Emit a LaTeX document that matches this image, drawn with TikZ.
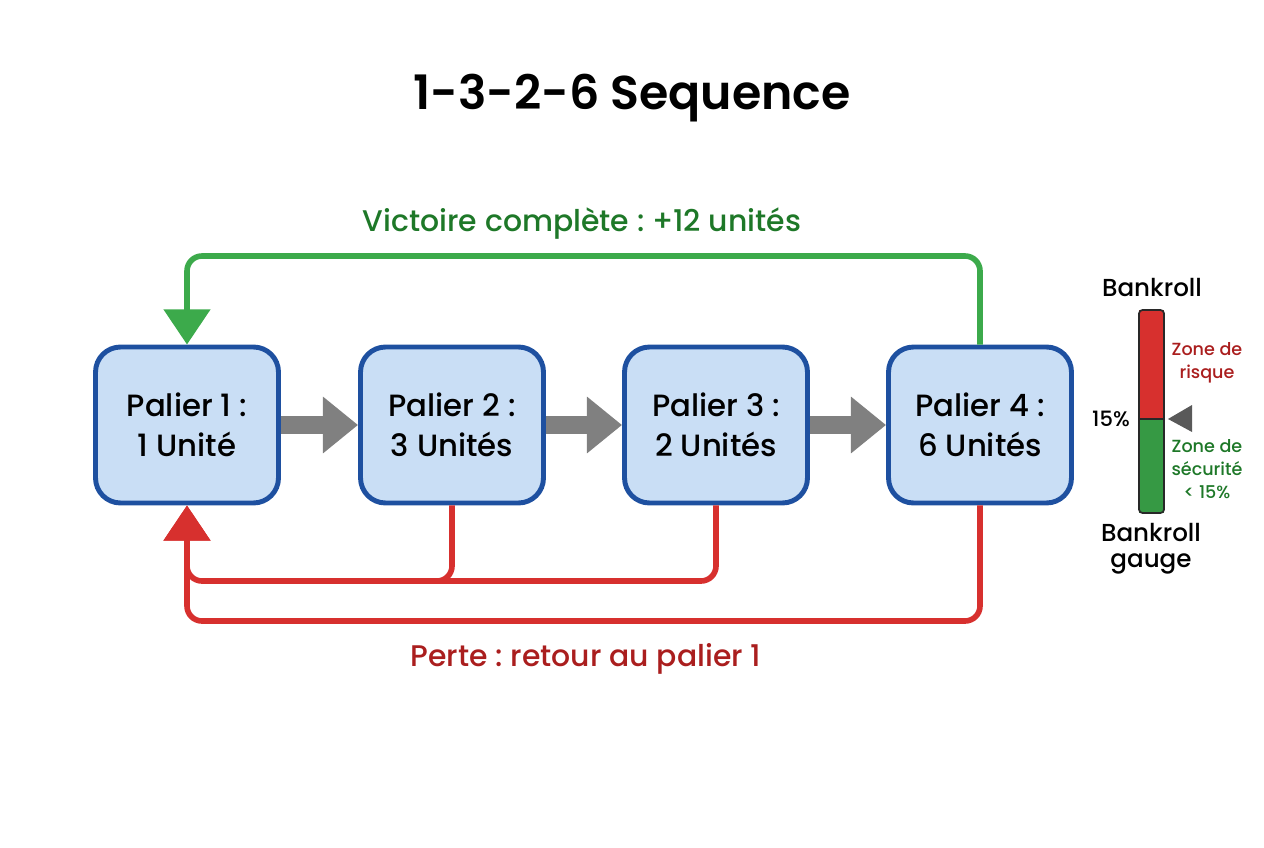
\documentclass[tikz,border=0pt]{standalone}
\usepackage{fontspec}
\setmainfont{Poppins Medium}[BoldFont={Poppins SemiBold}]
\usepackage{tikz}
\usetikzlibrary{arrows.meta, positioning, calc}
\frenchspacing
\definecolor{myblue}{RGB}{30,80,160}
\definecolor{hdrblue}{RGB}{201,222,245}
\definecolor{mygreen}{RGB}{60,170,75}
\definecolor{txtgreen}{RGB}{30,120,40}
\definecolor{myred}{RGB}{215,48,46}
\definecolor{txtred}{RGB}{170,30,30}
\definecolor{mygray}{RGB}{128,128,128}
\definecolor{mydark}{RGB}{40,40,40}
\tikzset{
  stepbox/.style={rectangle, draw=myblue, fill=hdrblue,
    minimum width=3.66cm, minimum height=3.12cm, align=center,
    font=\fontsize{17.5}{23}\selectfont, rounded corners=0.5cm, line width=2.8pt},
  nextarrow/.style={-{Triangle[width=31pt, length=20pt]}, line width=10.5pt, color=mygray},
  winline/.style={-{Triangle[width=26pt, length=20pt]}, line width=3.2pt,
    color=mygreen, rounded corners=0.3cm},
  lossline/.style={line width=3.2pt, color=myred, rounded corners=0.3cm},
  lossarrow/.style={lossline, -{Triangle[width=26pt, length=20pt]}},
  gaugetext/.style={font=\fontsize{14}{15}\selectfont},
  zonetext/.style={font=\fontsize{10}{13}\selectfont, align=center}
}
\begin{document}
\begin{tikzpicture}[x=0.02cm, y=-0.02cm]
  \useasboundingbox (0,0) rectangle (1264,848);

  % Title
  \node[font=\fontsize{27}{32}\selectfont\bfseries] (title) at (632,98) {1-3-2-6 Sequence};

  % Steps
  \node[stepbox] (p1) at (187,425) {Palier 1 :\\1 Unité};
  \node[stepbox] (p2) at (452,425) {Palier 2 :\\3 Unités};
  \node[stepbox] (p3) at (716,425) {Palier 3 :\\2 Unités};
  \node[stepbox] (p4) at (980,425) {Palier 4 :\\6 Unités};

  \draw[nextarrow] (p1) -- (p2);
  \draw[nextarrow] (p2) -- (p3);
  \draw[nextarrow] (p3) -- (p4);

  % Win loop
  \coordinate (wtop) at (0,256);
  \draw[winline] (p4.north) -- (p4.north |- wtop) -- (p1.north |- wtop) -- (p1.north);
  \node[font=\fontsize{17}{19}\selectfont, color=txtgreen] (winlbl) at (582,224) {Victoire complète : +12 unités};

  % Loss returns
  \coordinate (linner) at (0,581);
  \coordinate (louter) at (0,621);
  \draw[lossline] (p3.south) -- (p3.south |- linner) -- ($(p1.south |- linner)+(40,0)$);
  \draw[lossarrow] (p2.south) -- (p2.south |- linner) -- (p1.south |- linner) -- (p1.south);
  \draw[lossarrow] (p4.south) -- (p4.south |- louter) -- (p1.south |- louter) -- (p1.south);
  \node[font=\fontsize{17}{19}\selectfont, color=txtred] (losslbl) at (586,659) {Perte : retour au palier 1};

  % Gauge
  \fill[myred] (1139,310) rectangle (1164,419);
  \fill[mygreen!90!black] (1139,419) rectangle (1164,513);
  \draw[mydark, line width=1pt] (1139,419) -- (1164,419);
  \draw[mydark, line width=1pt, rounded corners=2pt] (1139,310) rectangle (1164,513);
  \fill[black!65] (1168,419) -- (1192,405) -- (1192,432) -- cycle;
  \node[gaugetext] (gtop) at (1152,288) {Bankroll};
  \node[gaugetext, align=center] (gbot) at (1151,549) {Bankroll\\gauge};
  \node[font=\fontsize{12}{14}\selectfont, anchor=east] (gpct) at (1136,419) {15\%};
  \node[zonetext, color=txtred] (grisk) at (1207,363) {Zone de\\risque};
  \node[zonetext, color=txtgreen] (gsafe) at (1207,469) {Zone de\\sécurité\\< 15\%};
\end{tikzpicture}
\end{document}
